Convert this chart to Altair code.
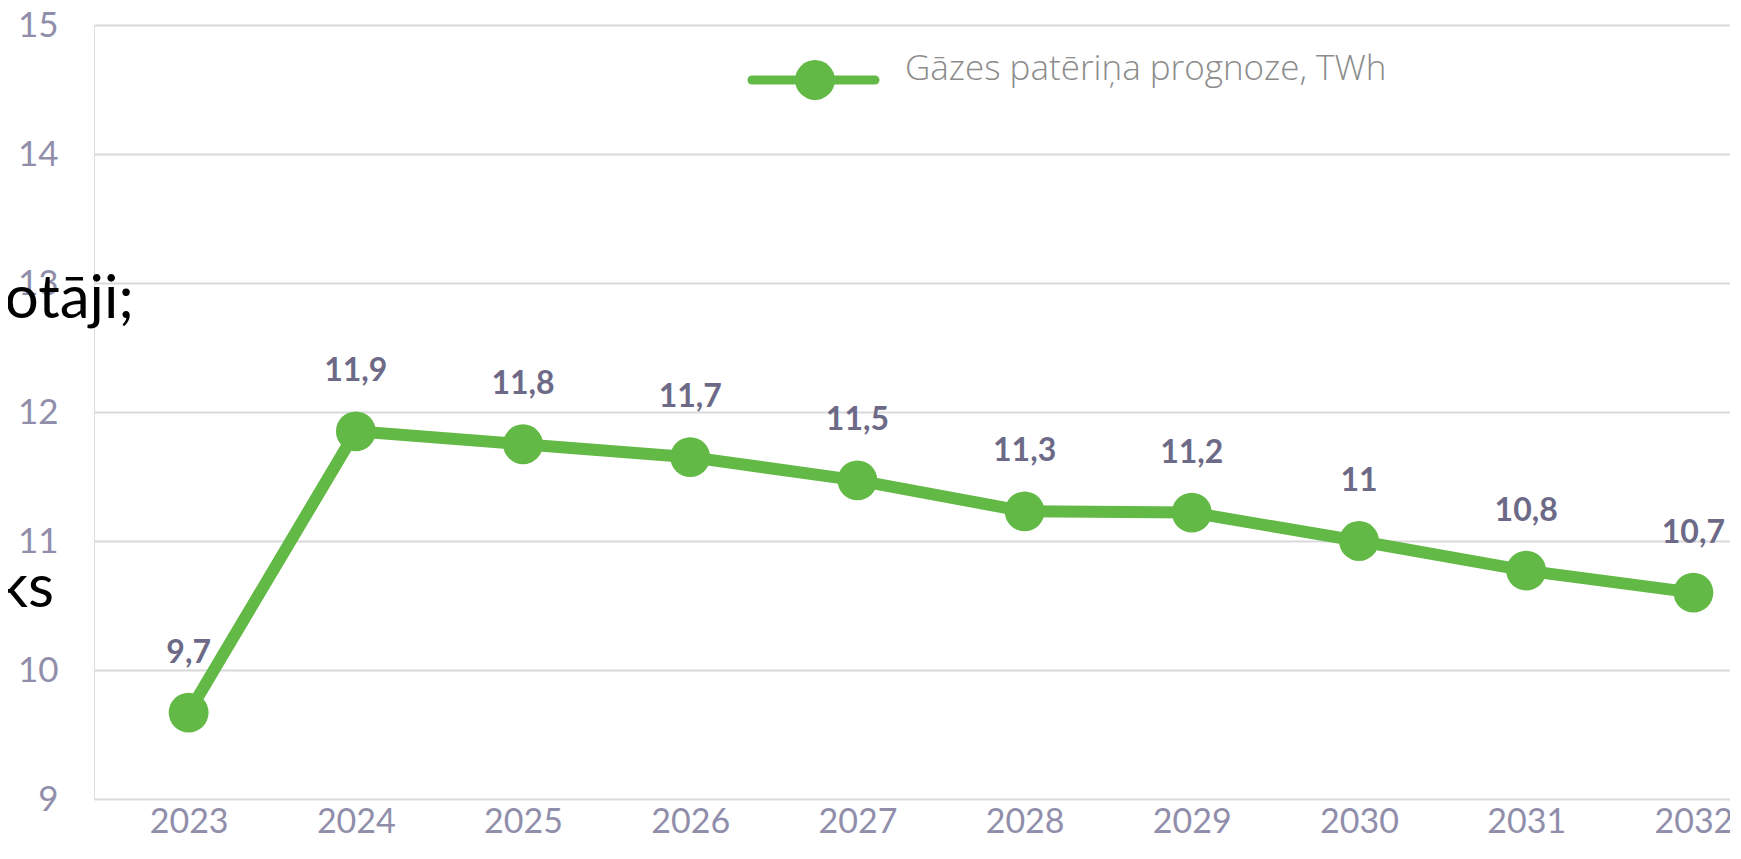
import altair as alt
import pandas as pd

years = [2023, 2024, 2025, 2026, 2027, 2028, 2029, 2030, 2031, 2032]
values = [9.67, 11.85, 11.75, 11.65, 11.47, 11.23, 11.22, 11.0, 10.77, 10.6]
value_labels = ["9,7", "11,9", "11,8", "11,7", "11,5", "11,3", "11,2", "11", "10,8", "10,7"]
y_ticks = [9, 10, 11, 12, 13, 14, 15]
legend_label = ["Gāzes patēriņa prognoze, TWh"]
overlay_texts = ["lietotāji;", "ks"]

GREEN = "#63b946"
TICK = "#908eaa"
LABEL = "#6c6a86"

df = pd.DataFrame({"year": years, "value": values, "label": value_labels})

x = alt.X("year:Q", scale=alt.Scale(domain=[2022.434, 2032.219], nice=False, zero=False),
          axis=alt.Axis(values=years, format="d", title=None, grid=False, ticks=False,
                        domain=False, labelFontSize=34, labelColor=TICK, labelFont="Lato",
                        labelPadding=6, labelFlush=False))
y = alt.Y("value:Q", scale=alt.Scale(domain=[9, 15], nice=False, zero=False),
          axis=alt.Axis(values=y_ticks, format="d", title=None, grid=True, gridColor="#d9d9dd",
                        gridWidth=2, ticks=False, domain=False, labelFontSize=35,
                        labelColor=TICK, labelFont="Lato", labelPadding=36))

base = alt.Chart(df)
line = base.mark_line(color=GREEN, strokeWidth=12).encode(x=x, y=y)
pts = base.mark_circle(color=GREEN, size=1590, opacity=1).encode(x="year:Q", y="value:Q")
txt = base.mark_text(dy=-60, fontSize=32, fontWeight="bold", font="Lato", color=LABEL,
                     baseline="middle").encode(x="year:Q", y="value:Q", text="label:N")

leg_df = pd.DataFrame({"t": legend_label})
leg_base = alt.Chart(leg_df)
leg_rule = leg_base.mark_rule(color=GREEN, strokeWidth=9, strokeCap="round").encode(
    x=alt.value(658), x2=alt.value(781), y=alt.value(55))
leg_pt = leg_base.mark_circle(color=GREEN, size=1590, opacity=1).encode(
    x=alt.value(721), y=alt.value(55))
leg_txt = leg_base.mark_text(align="left", baseline="alphabetic", fontSize=35,
                             font="Open Sans", fontWeight=300, color="#8c8c8c").encode(
    x=alt.value(811), y=alt.value(55), text="t:N")

ov1 = alt.Chart(pd.DataFrame({"t": [overlay_texts[0]]})).mark_text(
    align="right", baseline="alphabetic", fontSize=60, font="Lato", color="#000000"
).encode(x=alt.value(40), y=alt.value(293), text="t:N")
ov2 = alt.Chart(pd.DataFrame({"t": [overlay_texts[1]]})).mark_text(
    align="right", baseline="alphabetic", fontSize=60, font="Lato", color="#000000"
).encode(x=alt.value(-40), y=alt.value(582), text="t:N")

chart = alt.layer(line, pts, txt, leg_rule, leg_pt, leg_txt, ov1, ov2).properties(
    width=1636, height=774,
    autosize=alt.AutoSizeParams(type="none"),
    padding={"left": 86, "top": 17, "right": 0, "bottom": 48},
).configure_view(stroke=None).configure(background="white")

chart.save("out.html", embed_options={"renderer": "svg", "actions": False})
